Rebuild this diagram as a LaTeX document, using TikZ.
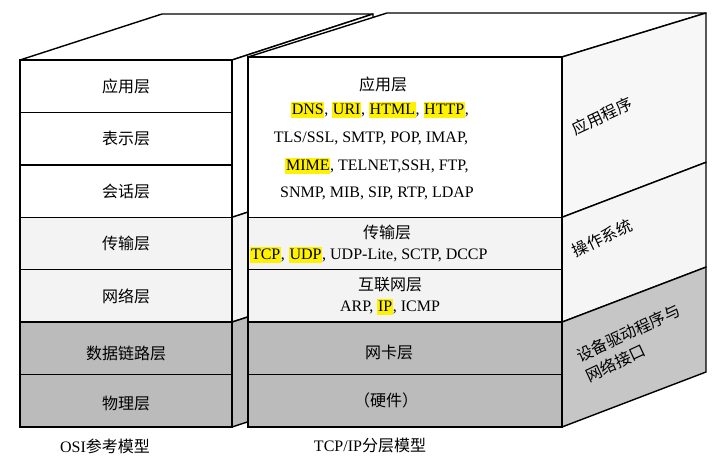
\documentclass[tikz,border=0pt]{standalone}
\usepackage{fontspec}
\setmainfont{Liberation Serif}
\newfontfamily\cjk{Noto Sans CJK SC}
\definecolor{hly}{HTML}{FFF200}
\definecolor{lgr}{HTML}{F3F3F3}
\definecolor{dgr}{HTML}{BBBBBB}
\definecolor{sgr}{HTML}{C6C6C6}
\newcommand{\hlt}[1]{{\setlength{\fboxsep}{0.6pt}\colorbox{hly}{\rule[-3.5pt]{0pt}{15pt}#1}}}
\begin{document}
\begin{tikzpicture}[x=1pt,y=-1pt,
  edge/.style={line width=1.4pt,line join=round},
  layer/.style={draw,line width=1.4pt,inner sep=0pt,minimum height=52.4pt,font=\cjk\fontsize{16}{18}\selectfont},
  osil/.style={layer,minimum width=212pt},
  tcpl/.style={layer,minimum width=314pt},
  txt/.style={inner sep=0pt,font=\fontsize{16}{18}\selectfont},
  ctxt/.style={inner sep=0pt,font=\cjk\fontsize{16}{18}\selectfont},
  sidetxt/.style={inner sep=0pt,rotate=25,align=left,font=\cjk\fontsize{16}{22}\selectfont}]
\useasboundingbox (0,0) rectangle (720,466);

% ---------- OSI box ----------
\filldraw[edge,fill=white] (20,60) -- (162,14) -- (373,14) -- (232,60) -- cycle;
\filldraw[edge,fill=white] (232,60) -- (373,14) -- (373,171.3) -- (232,217.3) -- cycle;
\filldraw[edge,fill=lgr] (232,217.3) -- (373,171.3) -- (373,276.1) -- (232,322.1) -- cycle;
\filldraw[edge,fill=dgr] (232,322.1) -- (373,276.1) -- (373,381) -- (232,427) -- cycle;

\node[osil,fill=white] (o1) at (126,86.2)  {应用层};
\node[osil,fill=white] (o2) at (126,138.6) {表示层};
\node[osil,fill=white] (o3) at (126,191.1) {会话层};
\node[osil,fill=lgr]   (o4) at (126,243.5) {传输层};
\node[osil,fill=lgr]   (o5) at (126,295.9) {网络层};
\node[osil,fill=dgr]   (o6) at (126,348.4) {};
\node[osil,fill=dgr]   (o7) at (126,400.8) {};
\node[ctxt] (o6t) at (126,353) {数据链路层};
\node[ctxt] (o7t) at (126,403) {物理层};

% ---------- TCP/IP box ----------
\filldraw[edge,fill=white] (248,57) -- (387,13) -- (706,13) -- (562,57) -- cycle;
\filldraw[edge,fill=white!97!black] (562,57) -- (706,13) -- (706,162.3) -- (562,217.3) -- cycle;
\filldraw[edge,fill=white!96!black] (562,217.3) -- (706,162.3) -- (706,267.1) -- (562,322.1) -- cycle;
\filldraw[edge,fill=sgr] (562,322.1) -- (706,267.1) -- (706,372) -- (562,427) -- cycle;

\node[tcpl,fill=white,minimum height=160.3pt] (t1) at (405,137.15) {};
\node[tcpl,fill=lgr] (t2) at (405,243.5) {};
\node[tcpl,fill=lgr] (t3) at (405,295.9) {};
\node[tcpl,fill=dgr] (t4) at (405,348.4) {};
\node[tcpl,fill=dgr] (t5) at (405,400.8) {};

\node[ctxt] (a0) at (383,84) {应用层};
\node[txt] (a1) at (380,110) {\hlt{DNS}, \hlt{URI}, \hlt{HTML}, \hlt{HTTP},};
\node[txt] (a2) at (371,138) {TLS/SSL, SMTP, POP, IMAP,};
\node[txt] (a3) at (377,166) {\hlt{MIME}, TELNET,SSH, FTP,};
\node[txt] (a4) at (377,193) {SNMP, MIB, SIP, RTP, LDAP};

\node[ctxt] (b0) at (387,232) {传输层};
\node[txt] (b1) at (369,255) {\hlt{TCP}, \hlt{UDP}, UDP-Lite, SCTP, DCCP};
\node[ctxt] (c0) at (390,285) {互联网层};
\node[txt] (c1) at (390,307) {ARP, \hlt{IP}, ICMP};
\node[ctxt] (d0) at (389,352) {网卡层};
\node[ctxt] (e0) at (386,400) {（硬件）};

% side labels
\node[sidetxt] (s1) at (602,116) {应用程序};
\node[sidetxt] (s2) at (602,238) {操作系统};
\node[sidetxt] (s3) at (633,343) {设备驱动程序与\\网络接口};

% captions
\node[inner sep=0pt,font=\fontsize{16}{18}\selectfont] (cap1) at (105,446) {OSI{\cjk 参考模型}};
\node[inner sep=0pt,font=\fontsize{16}{18}\selectfont] (cap2) at (370,445) {TCP/IP{\cjk 分层模型}};
\end{tikzpicture}
\end{document}
